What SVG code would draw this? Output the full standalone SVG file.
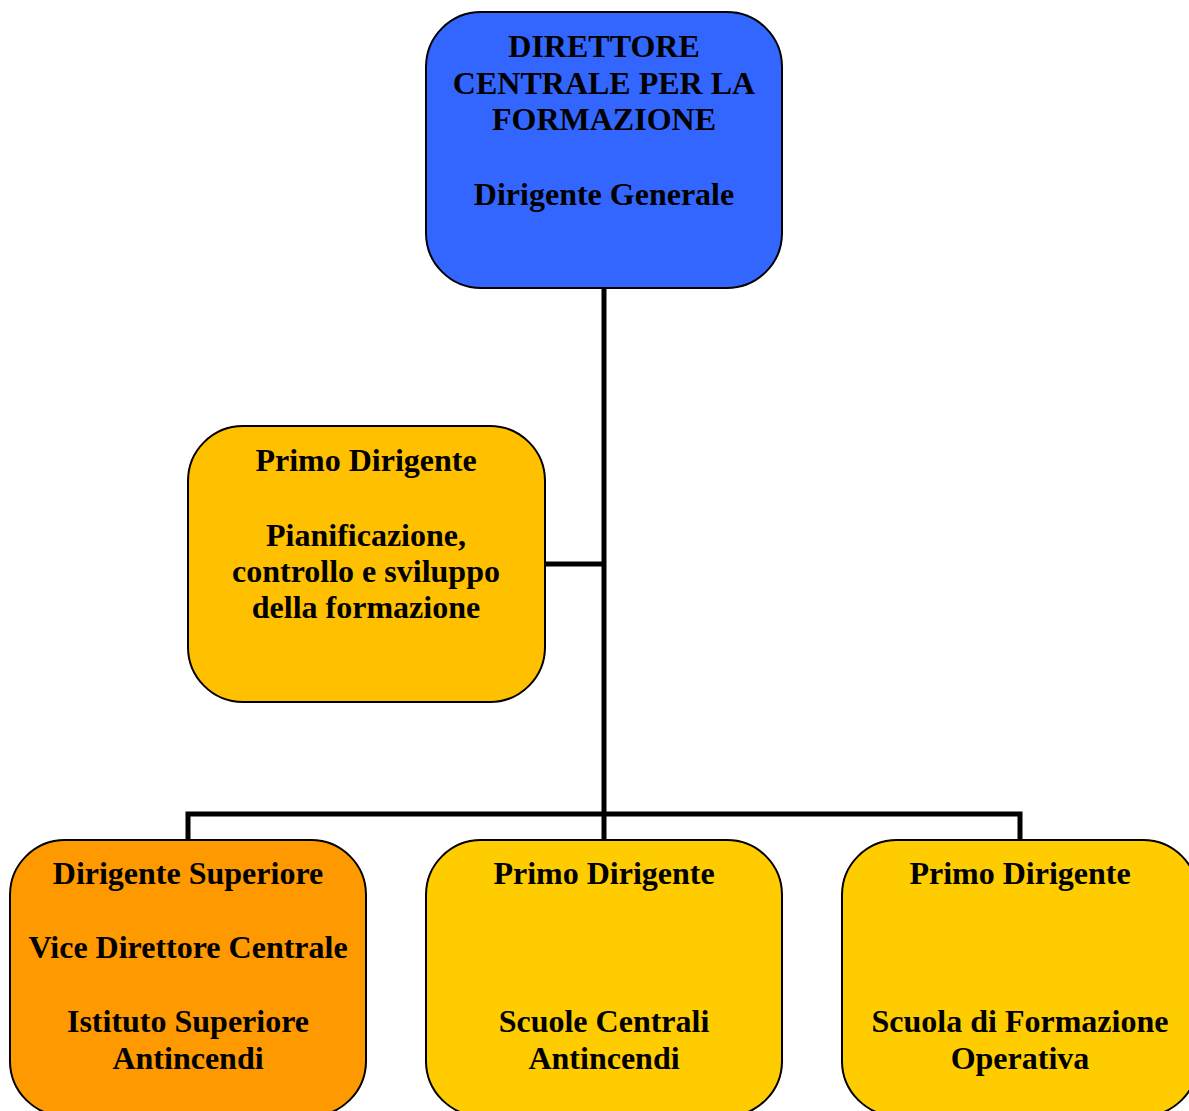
<svg xmlns="http://www.w3.org/2000/svg" width="1189" height="1111" viewBox="0 0 1189 1111">
<style>
.box{stroke:#000;stroke-width:2}
.t{font-family:"Liberation Serif","Times New Roman",serif;font-weight:bold;font-size:32px;fill:#000;text-anchor:middle}
.c{fill:none;stroke:#000;stroke-width:5}
</style>
<rect width="1189" height="1111" fill="#fff"/>
<g id="connectors">
<line class="c" x1="604" y1="288" x2="604" y2="840"/>
<line class="c" x1="545" y1="564" x2="604" y2="564"/>
<polyline class="c" points="188,840 188,814 1020,814 1020,840"/>
</g>
<g id="n-direttore">
<rect class="box" x="426" y="12" width="356" height="276" rx="55" fill="#3366FF"/>
<text class="t" x="604" y="57">DIRETTORE</text>
<text class="t" x="604" y="94">CENTRALE PER LA</text>
<text class="t" x="604" y="130">FORMAZIONE</text>
<text class="t" x="604" y="205">Dirigente Generale</text>
</g>
<g id="n-pianificazione">
<rect class="box" x="188" y="426" width="357" height="276" rx="55" fill="#FFC000"/>
<text class="t" x="366" y="471">Primo Dirigente</text>
<text class="t" x="366" y="546">Pianificazione,</text>
<text class="t" x="366" y="582">controllo e sviluppo</text>
<text class="t" x="366" y="618">della formazione</text>
</g>
<g id="n-istituto">
<rect class="box" x="10" y="840" width="356" height="276" rx="55" fill="#FF9900"/>
<text class="t" x="188" y="884">Dirigente Superiore</text>
<text class="t" x="188" y="958">Vice Direttore Centrale</text>
<text class="t" x="188" y="1032">Istituto Superiore</text>
<text class="t" x="188" y="1069">Antincendi</text>
</g>
<g id="n-scuole">
<rect class="box" x="426" y="840" width="356" height="276" rx="55" fill="#FFCC00"/>
<text class="t" x="604" y="884">Primo Dirigente</text>
<text class="t" x="604" y="1032">Scuole Centrali</text>
<text class="t" x="604" y="1069">Antincendi</text>
</g>
<g id="n-operativa">
<rect class="box" x="842" y="840" width="356" height="276" rx="55" fill="#FFCC00"/>
<text class="t" x="1020" y="884">Primo Dirigente</text>
<text class="t" x="1020" y="1032">Scuola di Formazione</text>
<text class="t" x="1020" y="1069">Operativa</text>
</g>
</svg>
